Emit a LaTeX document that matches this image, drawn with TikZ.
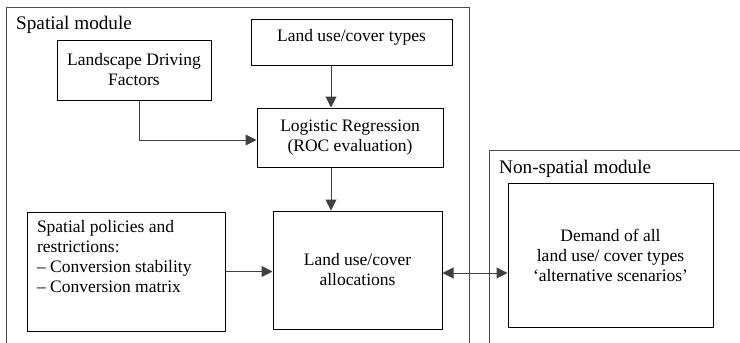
\documentclass[tikz,border=0pt]{standalone}
\usepackage{fontspec}
\setmainfont{Liberation Serif}
\usetikzlibrary{arrows.meta}

\begin{document}
\begin{tikzpicture}[x=1pt, y=-1pt,
    box/.style={draw=black, line width=1pt, inner sep=0pt, align=center, font=\fontsize{17.5}{20}\selectfont},
    link/.style={draw=black!75, line width=1pt, -{Triangle[length=11pt,width=11pt]}},
    dlink/.style={draw=black!75, line width=1pt, {Triangle[length=11pt,width=11pt]}-{Triangle[length=11pt,width=11pt]}},
    frame/.style={draw=black!70, line width=1pt},
    title/.style={anchor=base west, inner sep=0pt, font=\fontsize{19.2}{22}\selectfont}]
    \useasboundingbox (0,0) rectangle (740,343);

    % modules
    \draw[frame] (6,343) -- (6,7) -- (469,7) -- (469,343);
    \draw[frame] (489,343) -- (489,150) -- (740,150);
    \node[title] (spmod) at (16,29) {Spatial module};
    \node[title] (nspmod) at (499,173) {Non-spatial module};

    % boxes
    \node[box, minimum width=154pt, minimum height=60pt] (drivers) at (134,70) {Landscape Driving\\Factors};
    \node[box, minimum width=201pt, minimum height=46pt, text height=12pt, text depth=14pt] (types) at (351.5,42) {Land use/cover types};
    \node[box, minimum width=186pt, minimum height=59pt] (logit) at (350,137.5) {Logistic Regression\\(ROC evaluation)};
    \node[box, minimum width=169pt, minimum height=118pt] (alloc) at (357.5,270) {Land use/cover\\allocations};
    \node[box, inner xsep=10pt, inner ysep=8pt] (policies) at (126,271.5)
        {\parbox[c][103pt][t]{178pt}{\raggedright Spatial policies and\\restrictions:\\– Conversion stability\\– Conversion matrix}};
    \node[box, minimum width=205pt, minimum height=144pt] (demand) at (610.5,255) {Demand of all\\land use/ cover types\\‘alternative scenarios’};

    % arrows
    \coordinate (axis) at (331,0);
    \draw[link] ([xshift=5pt]drivers.south) |- ([yshift=-2.5pt]logit.west);
    \draw[link] (types.south -| axis) -- (logit.north -| axis);
    \draw[link] (logit.south -| axis) -- (alloc.north -| axis);
    \draw[link] (policies.east) -- (policies.east -| alloc.west);
    \draw[dlink] ([yshift=-3pt]alloc.east) -- ([yshift=-3pt]alloc.east -| demand.west);

\end{tikzpicture}
\end{document}
